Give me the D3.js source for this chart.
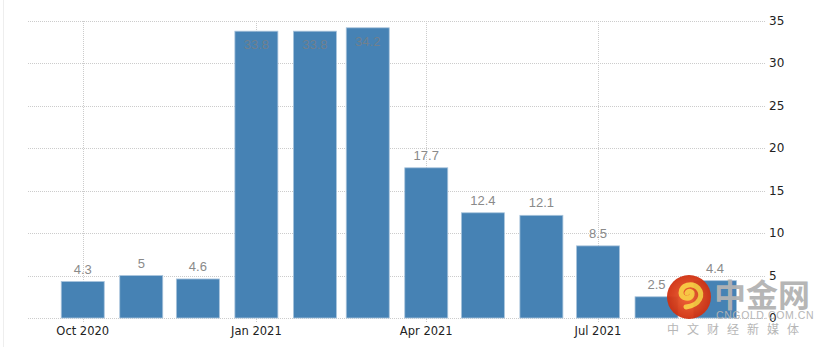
<!DOCTYPE html>
<html>
<head>
<meta charset="utf-8">
<script src="https://cdn.jsdelivr.net/npm/d3@7"></script>
<style>
  body { margin: 0; background: #fff; }
  svg { display: block; }
</style>
</head>
<body>
<div id="chart"></div>
<script>
const width = 821;
const height = 347;

// monthly values
const months = ['2020-10', '2020-11', '2020-12', '2021-01', '2021-02', '2021-03',
    '2021-04', '2021-05', '2021-06', '2021-07', '2021-08', '2021-09'];
const values = [4.3, 5, 4.6, 33.8, 33.8, 34.2, 17.7, 12.4, 12.1, 8.5, 2.5, 4.4];
const yTicks = [0, 5, 10, 15, 20, 25, 30, 35];
const xTicks = ['2020-10', '2021-01', '2021-04', '2021-07'];

const parse = d3.timeParse('%Y-%m');
const data = months.map((m, i) => ({ date: parse(m), value: values[i] }));

const svg = d3.select('#chart')
    .append('svg')
    .attr('width', width)
    .attr('height', height);

// faint panel border on the left
svg.append('line')
    .attr('x1', 3.5).attr('x2', 3.5)
    .attr('y1', 0).attr('y2', height)
    .attr('stroke', '#eee');

const x = d3.scaleTime()
    .domain([new Date(2020, 8, 2), new Date(2021, 8, 28)])
    .range([28, 766]);

const y = d3.scaleLinear()
    .domain([0, 35])
    .range([318, 21]);

const barW = 43;

// horizontal grid
svg.append('g')
    .selectAll('line')
    .data(yTicks)
    .enter()
    .append('line')
    .attr('x1', 28)
    .attr('x2', 766)
    .attr('y1', d => Math.round(y(d)) + 0.5)
    .attr('y2', d => Math.round(y(d)) + 0.5)
    .attr('stroke', '#ccc')
    .attr('stroke-dasharray', '1,1');

// vertical grid
svg.append('g')
    .selectAll('line')
    .data(xTicks.map(parse))
    .enter()
    .append('line')
    .attr('x1', d => Math.round(x(d)) + 0.5)
    .attr('x2', d => Math.round(x(d)) + 0.5)
    .attr('y1', 21)
    .attr('y2', 322)
    .attr('stroke', '#ccc')
    .attr('stroke-dasharray', '1,1');

// bars
svg.append('g')
    .selectAll('rect')
    .data(data)
    .enter()
    .append('rect')
    .attr('x', d => x(d.date) - barW / 2)
    .attr('width', barW)
    .attr('y', d => y(d.value))
    .attr('height', d => y(0) - y(d.value))
    .attr('fill', '#4682b4')
    .attr('stroke', '#a9c4dc')
    .attr('stroke-width', 0.8);

// value labels
svg.append('g')
    .selectAll('text')
    .data(data)
    .enter()
    .append('text')
    .attr('x', d => x(d.date))
    .attr('y', d => d.value > 30 ? y(d.value) + 18 : y(d.value) - 8)
    .attr('text-anchor', 'middle')
    .attr('font-family', 'Liberation Sans, Arial, sans-serif')
    .attr('font-size', 13)
    .attr('fill', d => d.value > 30 ? '#70808e' : '#8a8a8a')
    .text(d => d.value);

// y axis labels (right side)
svg.append('g')
    .selectAll('text')
    .data(yTicks)
    .enter()
    .append('text')
    .attr('x', 769)
    .attr('y', d => y(d) + 4)
    .attr('font-family', 'DejaVu Sans, sans-serif')
    .attr('font-size', 12)
    .attr('fill', '#222')
    .text(d => d);

// x axis labels
const fmt = d3.timeFormat('%b %Y');
svg.append('g')
    .selectAll('text')
    .data(xTicks.map(parse))
    .enter()
    .append('text')
    .attr('x', d => x(d))
    .attr('y', 335)
    .attr('text-anchor', 'middle')
    .attr('font-family', 'DejaVu Sans, sans-serif')
    .attr('font-size', 11.5)
    .attr('fill', '#222')
    .text(d => fmt(d));

// watermark
const wm = svg.append('g').attr('opacity', 0.95);
const grad = svg.append('defs').append('radialGradient').attr('id', 'wmg');
grad.append('stop').attr('offset', '0%').attr('stop-color', '#f06030');
grad.append('stop').attr('offset', '100%').attr('stop-color', '#d03010');
wm.append('circle')
    .attr('cx', 689).attr('cy', 297).attr('r', 22)
    .attr('fill', 'url(#wmg)');
wm.append('path')
    .attr('d', 'M686,307 C700,305 704,295 698,288 C692,282 681,285 681,293 C681,299 690,300 692,295 C693,291 688,290 687,293')
    .attr('fill', 'none')
    .attr('stroke', '#f7c43a')
    .attr('stroke-width', 5)
    .attr('stroke-linecap', 'round');
wm.append('text')
    .attr('x', 714).attr('y', 307)
    .attr('font-family', 'Noto Sans CJK SC, sans-serif')
    .attr('font-size', 32)
    .attr('font-weight', 'bold')
    .attr('fill', '#b3b3b3')
    .text('中金网');
wm.append('text')
    .attr('x', 716).attr('y', 319)
    .attr('font-family', 'Liberation Sans, sans-serif')
    .attr('font-size', 10.5)
    .attr('letter-spacing', 0.6)
    .attr('fill', '#b3b3b3')
    .text('CNGOLD.COM.CN');
wm.append('text')
    .attr('x', 667).attr('y', 334)
    .attr('font-family', 'Noto Sans CJK SC, sans-serif')
    .attr('font-size', 12)
    .attr('letter-spacing', 8)
    .attr('fill', '#b3b3b3')
    .text('中文财经新媒体');
</script>
</body>
</html>
